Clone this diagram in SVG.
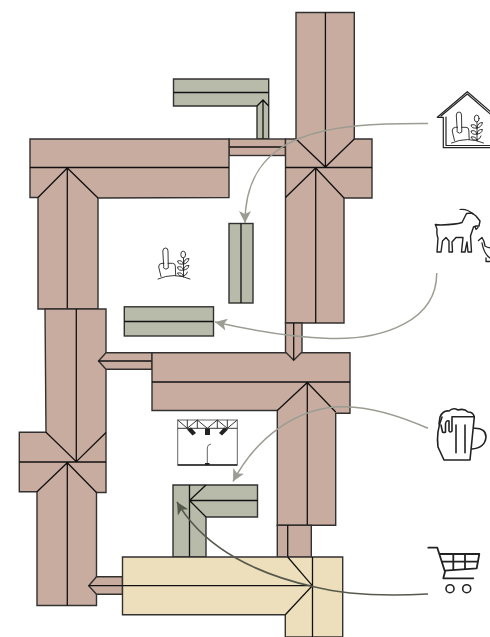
<svg xmlns="http://www.w3.org/2000/svg" width="490" height="637" viewBox="0 0 490 637">
<style>
.p{fill:#c8aca0}.g{fill:#b9bbaa}.c{fill:#eedfbc}
.p,.g,.c{stroke:#333130;stroke-width:1.4;stroke-linejoin:miter}
.l{fill:none;stroke:#111;stroke-width:1.3}
.i{fill:none;stroke:#222;stroke-width:1.2;stroke-linejoin:round;stroke-linecap:round}
.a{fill:none;stroke:#9b9c92;stroke-width:1.5}
.d{fill:none;stroke:#565a4c;stroke-width:1.6}
</style>
<defs>
<marker id="ag" markerUnits="userSpaceOnUse" viewBox="0 0 14 14" refX="13" refY="7" markerWidth="14" markerHeight="14" orient="auto"><path d="M13,7 L1,1 L4,7 L1,13 Z" fill="#9b9c92"/></marker>
<marker id="ad" markerUnits="userSpaceOnUse" viewBox="0 0 14 14" refX="13" refY="7" markerWidth="14" markerHeight="14" orient="auto"><path d="M13,7 L1,1 L4,7 L1,13 Z" fill="#565a4c"/></marker>
<g id="tp">
<path d="M158,279 Q174,272 190,279"/>
<path d="M161,276.5 L158.7,267 Q158.5,263.5 162,263.3 L164,263.3 M168,263.3 L172.5,263.3 Q175.3,263.5 175.3,266 L175.7,275.5"/>
<path d="M163.7,266 L162.8,251 Q163,248 165.5,248 Q168,248 168,251 L168.3,268 Q166,270.5 163.7,268 Z"/>
<path d="M183.5,258 L183.5,277"/>
<ellipse cx="183.2" cy="254.5" rx="2.4" ry="3.4"/>
<path d="M183.5,264 Q178,265 177.5,261 Q182,259.5 183.5,264 M183.5,264 Q188,263.5 189,258.5 Q184,258.5 183.5,264 M183.5,270 Q178,271.5 177.5,267 Q182,265.5 183.5,270 M183.5,270 Q188,270 189,265.5 Q184,265 183.5,270 M183.5,276 Q179,277 177.5,273 Q182,272 183.5,276 M183.5,276 Q187,275 187.5,272"/>
</g>
</defs>

<g id="roof-top-green"><path class="g" d="M173.5,79H268.7V139H257V106H173.5Z"/><path class="l" d="M173.5,92.5H268.7M257,106L263,100L268.7,106M263,100V139"/></g>
<g id="roof-link-a"><rect class="p" x="229" y="139" width="56.5" height="16.5"/><path class="l" d="M229,147H285.5"/></g>
<g id="roof-nw"><path class="p" d="M30,139H229V197.5L98,198V309H38V197.5H30Z"/><path class="l" d="M30,167.5H229M38,197.5L67.3,168L98,198M67.3,168V309"/></g>
<g id="roof-ne"><path class="p" d="M296,12.5H354.3V139H372V198H344V323H285.5V139H296Z"/><path class="l" d="M325.4,12.5V167M296,139L325.4,167L354.3,139M285.5,167.5H372M285.5,197.5L315.7,168L344,198M315.7,168V323"/></g>
<g id="roof-west"><path class="p" d="M45,309H106V492.5H96.5V605.5H37V491.7H19.3V432.3H46Z"/><path class="l" d="M76.3,309V461.7M46,432.3L76.3,461.7L106,432.5M19.3,462H106M37,491.7L67.3,462.7L96.5,492.5M67.3,462.7V605.5"/></g>
<g id="roof-link-c"><path class="p" d="M152,352.7H106L98.5,361L106,369.3H152Z"/><path class="l" d="M98.5,361H152"/></g>
<g id="roof-link-d"><path class="p" d="M122.5,576.7H96.5L88.7,585.7L96.5,594.3H122.5Z"/><path class="l" d="M88.7,585.7H122.5"/></g>
<g id="roof-center"><path class="p" d="M152,352.7H350V413.3H335.7V525.3H277.3V410.5H152Z"/><path class="l" d="M152,382H350M277.3,410.5L307.3,382.5L335.7,412M307.3,382.5V525.3"/></g>
<g id="roof-link-b"><path class="p" d="M285.5,323H302V352L293.7,360.3L285.5,352Z"/><path class="l" d="M293.7,323V360.3"/></g>
<g id="green-right"><rect class="g" x="229" y="223.5" width="24" height="79.5"/><path class="l" d="M241,223.5V303"/></g>
<g id="green-left"><rect class="g" x="124.3" y="306.8" width="89.2" height="29.2"/><path class="l" d="M124.3,321.5H213.5"/></g>
<g id="green-l"><path class="g" d="M173,485H257.5V517H206V557H173Z"/><path class="l" d="M189.5,485V557M206,485L189.5,500.5L206,517M189.5,500.5H257.5"/></g>
<g id="roof-link-e"><rect class="p" x="277.3" y="525.3" width="34" height="32"/><path class="l" d="M287.7,525.3V557"/></g>
<g id="roof-cream"><path class="c" d="M122.5,557H342.7V637H285.3V614.7H122.5Z"/><path class="l" d="M122.5,585.7H312M287.7,557L312.3,585.7L285.3,614.7M312.5,557V637"/></g>

<g id="connectors">
<path class="a" marker-end="url(#ag)" d="M428,123.5C330,123 245,130 245,223"/>
<path class="a" marker-end="url(#ag)" d="M436.7,273C437,320 385,340 330,338.5C290,337 250,330 215,322"/>
<path class="a" marker-end="url(#ag)" d="M428,428.3C400,416 370,407 345,406.7C295,406 255,440 233,481.5"/>
<path class="d" marker-end="url(#ad)" d="M428,594C390,596 350,596 315,587C260,575 205,550 177,502"/>
</g>

<g id="icon-plant"><use href="#tp" class="i" style="stroke-width:.9"/></g>
<g id="icon-house">
<path class="i" d="M437.3,117.3L467.3,91.7L492,113M437.3,117.3H443.3V147.7H492" />
<path class="i" d="M441,116L467.3,94L492,115.5M446,117V145.5H492"/>
<use href="#tp" x="293.5" y="-136" class="i" style="stroke-width:.9"/>
</g>
<g id="icon-goat"><path class="i" style="stroke-width:1.4" d="M435.3,224.5L437,229Q436.5,235 438,238L437,252H441L442.5,241L446,237.5L449,241L449,252L452.5,252L452,242L456,237.5L463,237.5L461.5,252H465L467,242L468,252H471.5L470.5,236L473.5,227L476,226L479,226L480,221L476,216L472,213L466.5,213.5L462,222.5Q456,224.5 441,225Q437,225 435.3,224.5Z"/><path class="i" d="M460,209.5Q467,208.5 473,214M475,226.5L476,229.5L478,227.5"/>
<path class="i" style="stroke-width:1.3" d="M478.5,240.5L482,237.5L484,241.5L485,246Q488,248 492,248M482,243Q484,254 490,258M486,258V261.5H491"/></g>
<g id="icon-mug"><path class="i" style="stroke-width:1.6" d="M442,417Q436,432 438,447L444,460H470L474.3,417"/><path class="i" style="stroke-width:1.6" d="M439,424L440,417Q443,410 449,411Q453,407 458,410Q464,408 468,412Q473,412 474.3,416.7H452V431Q450,433 449,431V421Q446,420 445.5,424V432Q444,433 442.5,432L441,425M456,425V452.7M465,425V452.7M474.3,428.3Q486,428 486,437Q485,448 471.7,449"/></g>
<g id="icon-cart"><path class="i" style="stroke-width:1.8" d="M428.3,547.7H437.3L445,571.7L443.3,578.3H473.3M439.3,554H479.3L476.7,568.3L445,570.7M453.3,554V570M465,554V569M441.7,561.7H478"/><circle class="i" style="stroke-width:1.6" cx="450" cy="588.7" r="4"/><circle class="i" style="stroke-width:1.6" cx="466.7" cy="588.7" r="4"/></g>
<g id="icon-stage">
<rect x="177.7" y="420" width="59.6" height="45" fill="#fff" stroke="#666" stroke-width="1"/>
<path d="M177.7,465H237.3" stroke="#222" stroke-width="1.4"/>
<path d="M177.7,428.3H237.3M177.7,420L187.3,428.3L197.3,420L207.3,428.3L217.3,420L227.3,428.3L237.3,420M187.3,420V428.3M197.3,420V428.3M217.3,420V428.3M227.3,420V428.3" fill="none" stroke="#222" stroke-width=".9"/>
<path d="M187,429.5L191,427.5L196,433L192.5,435.5ZM205,428.5H210V435H205ZM219,433L224,427.5L228,429.5L222,435.5Z" fill="#222"/>
<path d="M207.3,463V448Q207.3,444.5 211,444" fill="none" stroke="#555" stroke-width=".9"/>
<rect x="205" y="463" width="4.5" height="2" fill="#222"/>
</g>
</svg>
